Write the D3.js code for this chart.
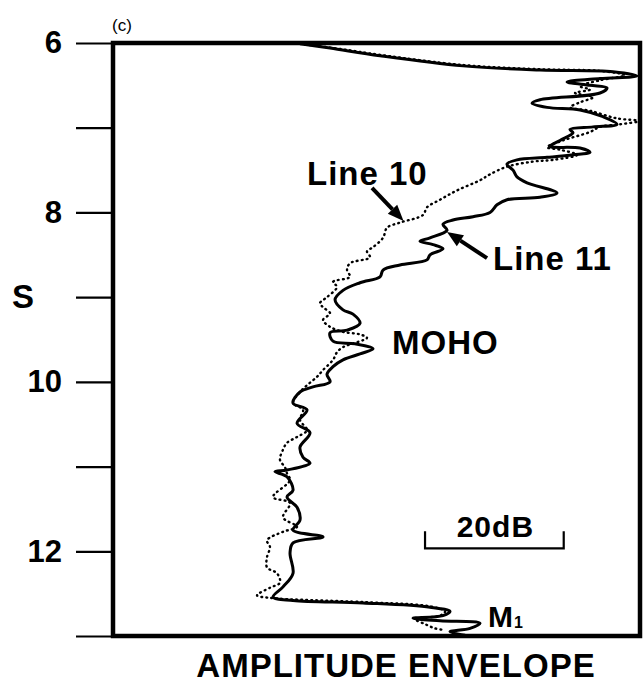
<!DOCTYPE html>
<html>
<head>
<meta charset="utf-8">
<script src="https://cdn.jsdelivr.net/npm/d3@7"></script>
<style>
  html, body { margin: 0; padding: 0; background: #fff; }
  svg { display: block; }
  text { font-family: "Liberation Sans", Arial, Helvetica, sans-serif; fill: #000; }
</style>
</head>
<body>
<svg id="chart" width="644" height="683"></svg>
<script>
// Two-way time (s) and amplitude envelope (dB) for seismic lines 10 and 11
const line11Time = [6.01,6.06,6.15,6.27,6.32,6.34,6.39,6.42,6.46,6.50,6.53,6.59,6.67,6.71,6.76,6.79,6.87,6.96,6.99,7.02,7.06,7.15,7.22,7.24,7.29,7.32,7.35,7.38,7.43,7.50,7.58,7.65,7.77,7.82,7.85,7.91,8.00,8.05,8.09,8.14,8.21,8.30,8.34,8.38,8.43,8.50,8.56,8.62,8.68,8.76,8.83,8.92,9.03,9.15,9.20,9.31,9.39,9.42,9.52,9.55,9.61,9.67,9.74,9.82,9.91,10.00,10.06,10.12,10.25,10.33,10.49,10.60,10.77,10.89,10.96,11.04,11.06,11.12,11.28,11.36,11.48,11.63,11.75,11.83,11.90,12.02,12.26,12.42,12.54,12.58,12.61,12.66,12.71,12.76,12.79,12.82,12.85,12.91,12.95,12.99];
const line11Amp = [26.97,31.30,38.51,50.48,61.58,72.11,75.57,70.23,65.48,68.79,71.24,70.23,61.58,60.43,62.59,67.35,70.67,72.69,69.23,65.91,66.34,64.46,63.02,67.35,68.79,66.34,62.59,58.26,56.82,57.69,58.26,59.71,64.03,61.58,56.82,55.38,54.37,51.92,49.03,47.59,48.17,45.72,44.27,46.15,47.59,45.72,45.28,41.39,38.94,38.51,35.62,33.17,32.02,33.17,34.61,35.62,33.75,31.30,31.73,34.90,37.50,35.62,33.17,31.73,30.86,31.30,28.84,26.97,25.96,27.98,26.54,28.41,26.97,27.40,28.41,25.09,23.36,25.09,25.96,25.09,26.54,26.97,25.96,30.29,25.96,25.53,25.96,24.52,23.08,25.96,36.06,45.72,48.60,47.59,43.27,47.16,52.93,51.49,48.60,50.77];

const line10Time = [6.01,6.07,6.14,6.26,6.31,6.33,6.38,6.44,6.51,6.55,6.59,6.64,6.70,6.76,6.80,6.89,6.92,6.96,6.99,7.05,7.15,7.23,7.26,7.32,7.38,7.40,7.46,7.55,7.62,7.74,7.85,7.94,8.03,8.12,8.18,8.30,8.41,8.46,8.53,8.60,8.68,8.76,8.82,8.88,9.00,9.07,9.12,9.19,9.27,9.35,9.41,9.44,9.48,9.59,9.65,9.74,9.86,9.94,10.03,10.12,10.25,10.33,10.45,10.57,10.65,10.72,10.80,10.92,11.01,11.08,11.16,11.36,11.43,11.60,11.71,11.77,11.87,11.95,12.07,12.19,12.26,12.37,12.43,12.52,12.55,12.60,12.65,12.71,12.76,12.80,12.86,12.91,12.93];
const line10Amp = [26.97,32.74,38.51,50.48,61.58,70.23,73.84,70.23,67.35,68.79,66.63,69.23,67.35,65.91,68.79,72.69,76.00,73.11,70.23,68.79,64.90,62.59,64.46,66.92,63.46,60.57,56.82,54.37,52.93,49.61,47.16,45.28,44.71,41.39,39.52,38.94,37.50,36.63,37.06,34.18,33.75,34.18,31.73,32.31,30.86,29.85,30.29,31.30,30.29,31.30,33.17,35.62,36.63,33.17,32.31,31.73,30.29,29.42,28.12,26.97,25.96,27.40,26.97,27.98,26.54,25.09,24.52,24.08,24.81,25.09,25.53,23.08,25.53,24.52,26.54,24.52,22.21,22.64,22.21,22.21,23.65,24.08,22.64,20.77,22.64,36.06,45.72,47.88,47.16,43.55,45.00,46.44,47.88];

// Axis ticks and labels
const timeTicks = [6, 7, 8, 9, 10, 11, 12, 13];
const timeTickLabels = {6: "6", 8: "8", 10: "10", 12: "12"};
const scaleBarDb = [45, 65];

const svg = d3.select("#chart");
const plotLeft = 113, plotRight = 640, plotTop = 43, plotBottom = 636;

const y = d3.scaleLinear().domain([6, 13]).range([plotTop, plotBottom]);
const x = d3.scaleLinear().domain([0, 76]).range([plotLeft, plotRight]);

svg.append("defs").append("clipPath").attr("id", "plotClip")
  .append("rect").attr("x", plotLeft).attr("y", plotTop)
  .attr("width", plotRight - plotLeft).attr("height", plotBottom - plotTop);

// y axis: long outward ticks, labels only on even seconds
const yAxis = d3.axisLeft(y)
  .tickValues(timeTicks)
  .tickSize(37)
  .tickPadding(14)
  .tickFormat(d => timeTickLabels[d] || "");
const gy = svg.append("g").attr("transform", `translate(${plotLeft},0)`).call(yAxis);
gy.select(".domain").remove();
gy.selectAll(".tick line").attr("stroke", "#000").attr("stroke-width", 2.2);
gy.selectAll(".tick text")
  .style("font-family", '"Liberation Sans", Arial, sans-serif')
  .style("font-weight", "bold")
  .style("font-size", "31px")
  .attr("fill", "#000");

// axis titles
svg.append("text").attr("x", 23).attr("y", 308)
  .attr("text-anchor", "middle")
  .style("font-weight", "bold").style("font-size", "33px").text("S");

svg.append("text").attr("x", 396).attr("y", 677)
  .attr("text-anchor", "middle")
  .style("font-weight", "bold").style("font-size", "33px")
  .style("letter-spacing", "1px")
  .text("AMPLITUDE ENVELOPE");

svg.append("text").attr("x", 112).attr("y", 31)
  .style("font-size", "17px").text("(c)");

// amplitude curves
const toPoints = (ts, as) => ts.map((t, i) => ({t, a: as[i]}));
const lineGen = d3.line()
  .x(d => x(d.a))
  .y(d => y(d.t))
  .curve(d3.curveCatmullRom.alpha(0.5));

const plot = svg.append("g").attr("clip-path", "url(#plotClip)");

plot.append("path")
  .datum(toPoints(line10Time, line10Amp))
  .attr("d", lineGen)
  .attr("fill", "none")
  .attr("stroke", "#000")
  .attr("stroke-width", 2.4)
  .attr("stroke-linecap", "round")
  .attr("stroke-dasharray", "0.8,4.2");

plot.append("path")
  .datum(toPoints(line11Time, line11Amp))
  .attr("d", lineGen)
  .attr("fill", "none")
  .attr("stroke", "#000")
  .attr("stroke-width", 3)
  .attr("stroke-linejoin", "round");

// frame
svg.append("rect")
  .attr("x", plotLeft).attr("y", plotTop)
  .attr("width", plotRight - plotLeft).attr("height", plotBottom - plotTop)
  .attr("fill", "none").attr("stroke", "#000").attr("stroke-width", 4.5);

// arrows pointing at each trace
function arrow(from, to) {
  const x1 = x(from[0]), y1 = y(from[1]), x2 = x(to[0]), y2 = y(to[1]);
  const ang = Math.atan2(y2 - y1, x2 - x1);
  const headLen = 16, headW = 6.5;
  const bx = x2 - headLen * Math.cos(ang), by = y2 - headLen * Math.sin(ang);
  svg.append("line")
    .attr("x1", x1).attr("y1", y1).attr("x2", bx).attr("y2", by)
    .attr("stroke", "#000").attr("stroke-width", 4);
  const px = -Math.sin(ang) * headW, py = Math.cos(ang) * headW;
  svg.append("path")
    .attr("d", `M${x2},${y2}L${bx + px},${by + py}L${bx - px},${by - py}Z`)
    .attr("fill", "#000");
}
arrow([37.35, 7.71], [41.9, 8.10]);
arrow([53.94, 8.54], [48.17, 8.23]);

// labels
const lbl = (dB, t, s, size) => svg.append("text")
  .attr("x", x(dB)).attr("y", y(t))
  .style("font-weight", "bold").style("font-size", size + "px")
  .style("letter-spacing", "1px").text(s);
lbl(27.98, 7.68, "Line 10", 33);
lbl(54.8, 8.68, "Line 11", 33);
lbl(40.24, 9.67, "MOHO", 33);
const m1 = lbl(54.08, 12.89, "M", 30);
m1.append("tspan").attr("dy", 1).style("font-size", "16px").text("1");

// 20 dB scale bar
const sbY = y(12) - 3;
svg.append("path")
  .attr("d", `M${x(scaleBarDb[0])},${sbY - 17}V${sbY}H${x(scaleBarDb[1])}V${sbY - 17}`)
  .attr("fill", "none").attr("stroke", "#000").attr("stroke-width", 2.2);
svg.append("text")
  .attr("x", (x(scaleBarDb[0]) + x(scaleBarDb[1])) / 2 + 1).attr("y", sbY - 11)
  .attr("text-anchor", "middle")
  .style("font-weight", "bold").style("font-size", "30px")
  .style("letter-spacing", "1px")
  .text("20dB");
</script>
</body>
</html>
